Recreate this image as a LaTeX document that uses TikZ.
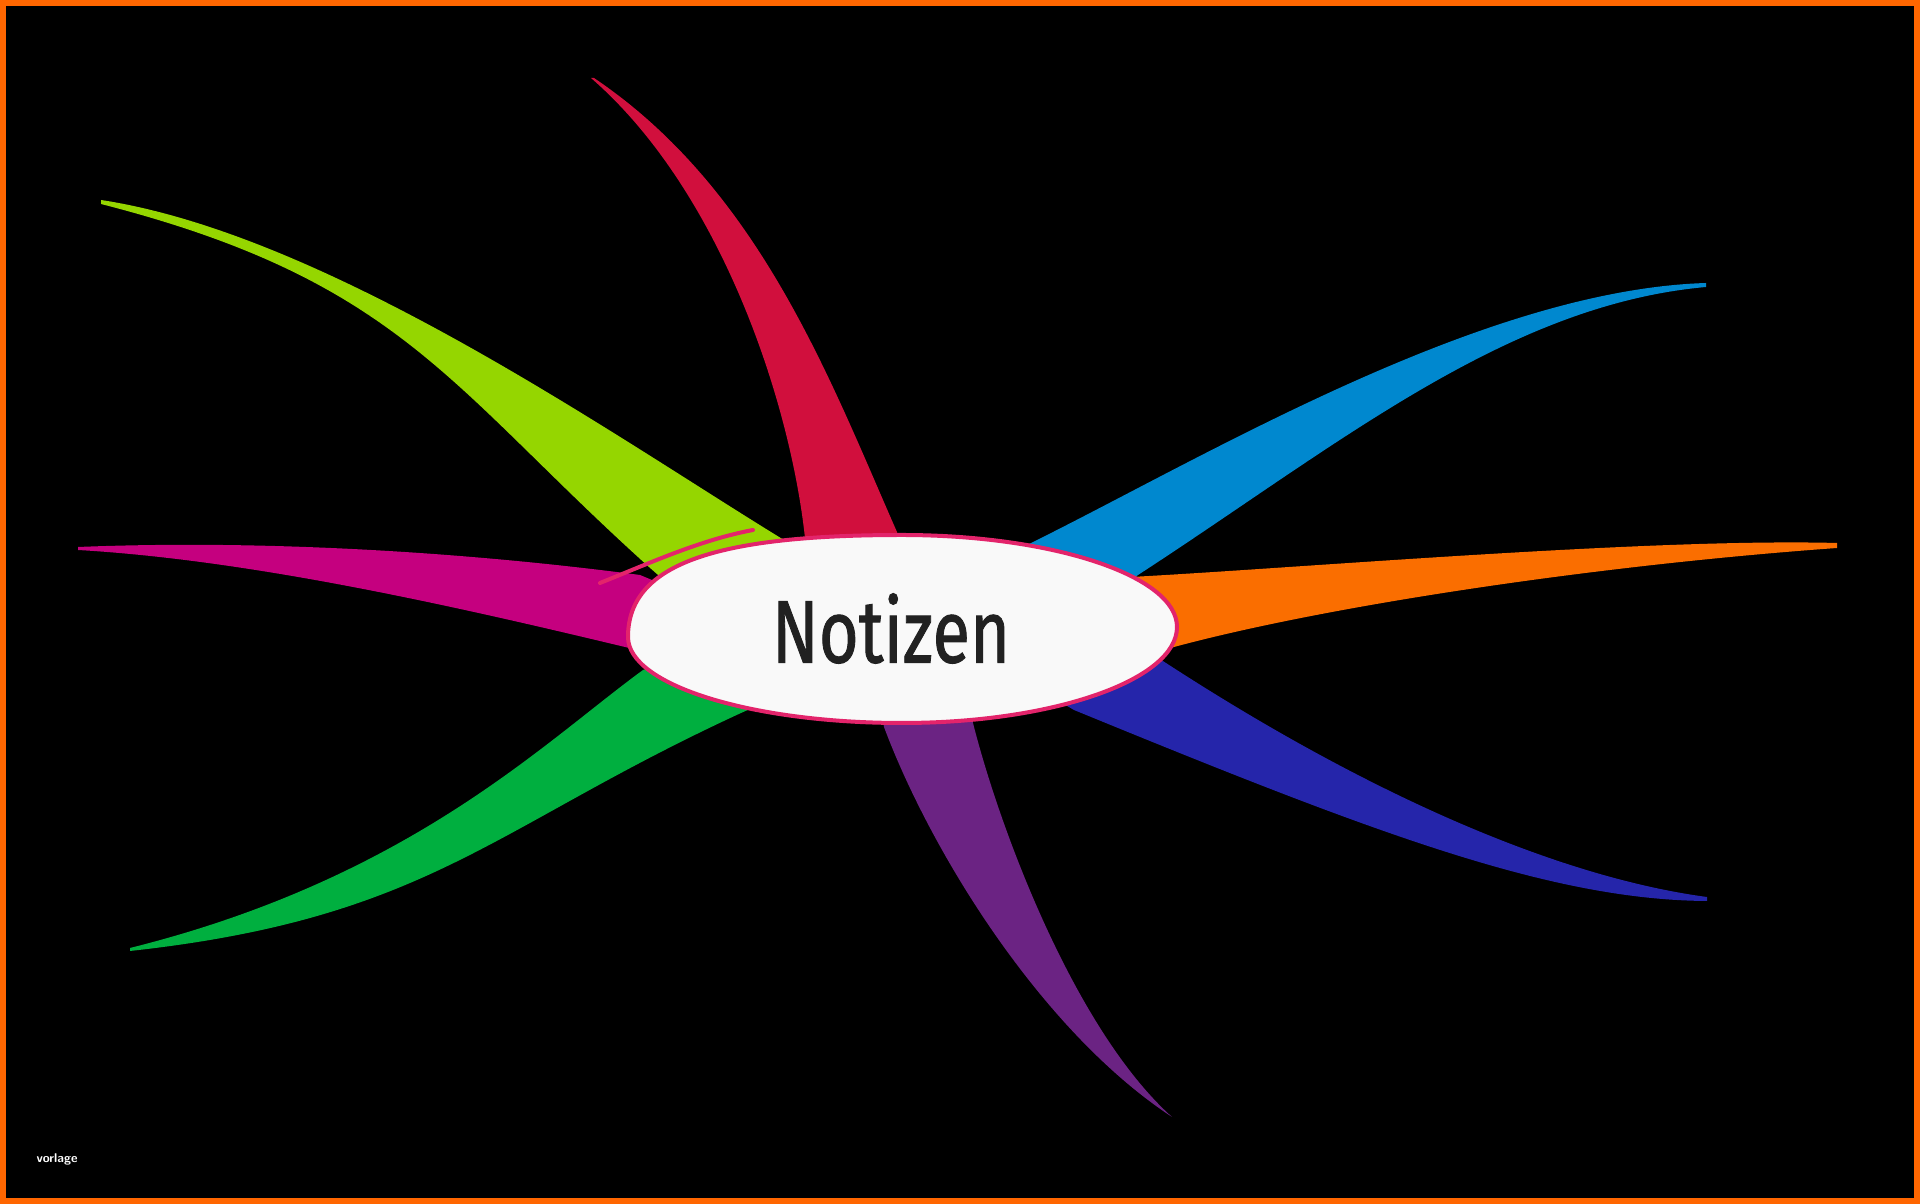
\documentclass[tikz,border=0pt]{standalone}
\usepackage{fontspec}
\usepackage{tikz}
\newfontfamily\notizfont{Fira Sans}[FakeBold=1.2]
\definecolor{astHellgruen}{HTML}{95D600}
\definecolor{astRot}{HTML}{D10F3D}
\definecolor{astMagenta}{HTML}{C5007F}
\definecolor{astBlau}{HTML}{0088CF}
\definecolor{astOrange}{HTML}{FA6E00}
\definecolor{astGruen}{HTML}{00AF3F}
\definecolor{astLila}{HTML}{6B2383}
\definecolor{astDunkelblau}{HTML}{2525AA}
\definecolor{kreisRand}{HTML}{E3246B}
\definecolor{kreisFill}{HTML}{F9F9F9}
\definecolor{rahmenOrange}{HTML}{FF6600}
\tikzset{ast/.style={fill=#1, draw=none}}

\begin{document}
\begin{tikzpicture}[x=0.01cm, y=-0.01cm]
    \useasboundingbox (0,0) rectangle (1920,1204);
    \fill [black] (0,0) rectangle (1920,1204);
    \draw [rahmenOrange, line width=0.06cm] (3,3) rectangle (1917,1201);
    \fill [ast=astHellgruen] (101,200) .. controls (330,235) and (620,440) .. (784,540) -- (800,600) -- (700,612) -- (649,567) .. controls (449,387) and (401,281) .. (101,204) -- cycle;
    \fill [ast=astMagenta] (78,547) .. controls (250,540) and (450,550) .. (640,575) -- (700,600) -- (660,655) -- (625,647) .. controls (450,605) and (250,560) .. (78,550) -- cycle;
    \fill [ast=astRot] (591,78) .. controls (720,190) and (790,400) .. (805,538) -- (815,600) -- (905,590) -- (897,532) .. controls (830,380) and (760,190) .. (594,78) -- cycle;
    \fill [ast=astGruen] (130,948) .. controls (410,878) and (543,743) .. (643,670) -- (720,640) -- (770,700) -- (741,713) .. controls (491,828) and (430,918) .. (130,951) -- cycle;
    \fill [ast=astLila] (878,690) -- (884,727) .. controls (930,850) and (1040,1030) .. (1172,1117) .. controls (1075,1030) and (1000,830) .. (973,723) -- (970,690) -- cycle;
    \fill [ast=astDunkelblau] (1130,640) -- (1166,663) .. controls (1366,793) and (1557,877) .. (1707,897) -- (1707,901) .. controls (1550,900) and (1374,833) .. (1074,710) -- (1040,690) -- cycle;
    \fill [ast=astBlau] (1000,580) -- (1027,545) .. controls (1200,460) and (1480,290) .. (1706,283) -- (1706,287) .. controls (1506,305) and (1338,445) .. (1138,575) -- (1110,600) -- cycle;
    \fill [ast=astOrange] (1100,585) -- (1131,577) .. controls (1300,568) and (1650,538) .. (1837,543) -- (1837,548) .. controls (1600,565) and (1330,605) .. (1174,647) -- (1130,660) -- cycle;
    \filldraw [fill=kreisFill, draw=kreisRand, line width=0.04cm] (628,637) .. controls (628,566) and (710,535) .. (902,535) .. controls (1053,535) and (1177,576) .. (1177,627) .. controls (1177,680) and (1053,723) .. (902,723) .. controls (751,723) and (628,685) .. cycle;
    \draw [kreisRand, line width=0.04cm, line cap=round] (600,583) .. controls (650,563) and (700,540) .. (753,530);
    \node [inner sep=0pt, text=black!87, font=\notizfont] (notizen) at (891,628.5) {\resizebox{2.38cm}{0.69cm}{Notizen}};
    \node [text=white, font=\sffamily\bfseries\fontsize{3.6}{4}\selectfont] (vorlage) at (57,1159) {vorlage};
\end{tikzpicture}
\end{document}
